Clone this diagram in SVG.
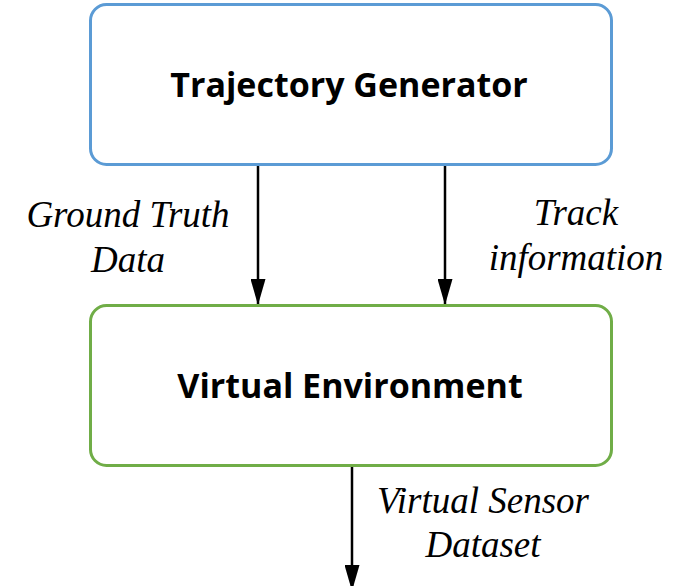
<svg xmlns="http://www.w3.org/2000/svg" width="676" height="586" viewBox="0 0 676 586">
  <style>
    .box { fill: #ffffff; stroke-width: 3; }
    .title { font-family: "Open Sans", "Liberation Sans", sans-serif; font-weight: bold; font-size: 34px; fill: #000000; text-anchor: middle; }
    .label { font-family: "Liberation Serif", "DejaVu Serif", serif; font-style: italic; font-size: 37px; fill: #000000; text-anchor: middle; }
    .wire { stroke: #000000; stroke-width: 2.5; fill: none; marker-end: url(#head); }
  </style>
  <defs>
    <marker id="head" viewBox="0 0 26 15" refX="26" refY="7.5" markerWidth="26" markerHeight="15" markerUnits="userSpaceOnUse" orient="auto">
      <path d="M0,0 L26,7.5 L0,15 Z" fill="#000000"/>
    </marker>
  </defs>

  <rect width="676" height="586" fill="#ffffff"/>

  <g id="connectors">
    <line class="wire" x1="258" y1="166" x2="258" y2="305"/>
    <line class="wire" x1="445" y1="166" x2="445" y2="305"/>
    <line class="wire" x1="352" y1="467" x2="352" y2="591"/>
  </g>

  <g id="trajectory-generator">
    <rect class="box" x="90.5" y="4.5" width="521" height="160" rx="16" stroke="#5b9bd5"/>
    <text class="title" x="349" y="97">Trajectory Generator</text>
  </g>

  <g id="virtual-environment">
    <rect class="box" x="90.5" y="305.5" width="521" height="160" rx="16" stroke="#70ad47"/>
    <text class="title" x="350" y="398">Virtual Environment</text>
  </g>

  <g id="labels">
    <text class="label" x="128" y="227">Ground Truth</text>
    <text class="label" x="128" y="272">Data</text>
    <text class="label" x="576" y="225">Track</text>
    <text class="label" x="576" y="270">information</text>
    <text class="label" x="483" y="513">Virtual Sensor</text>
    <text class="label" x="483" y="557">Dataset</text>
  </g>
</svg>
